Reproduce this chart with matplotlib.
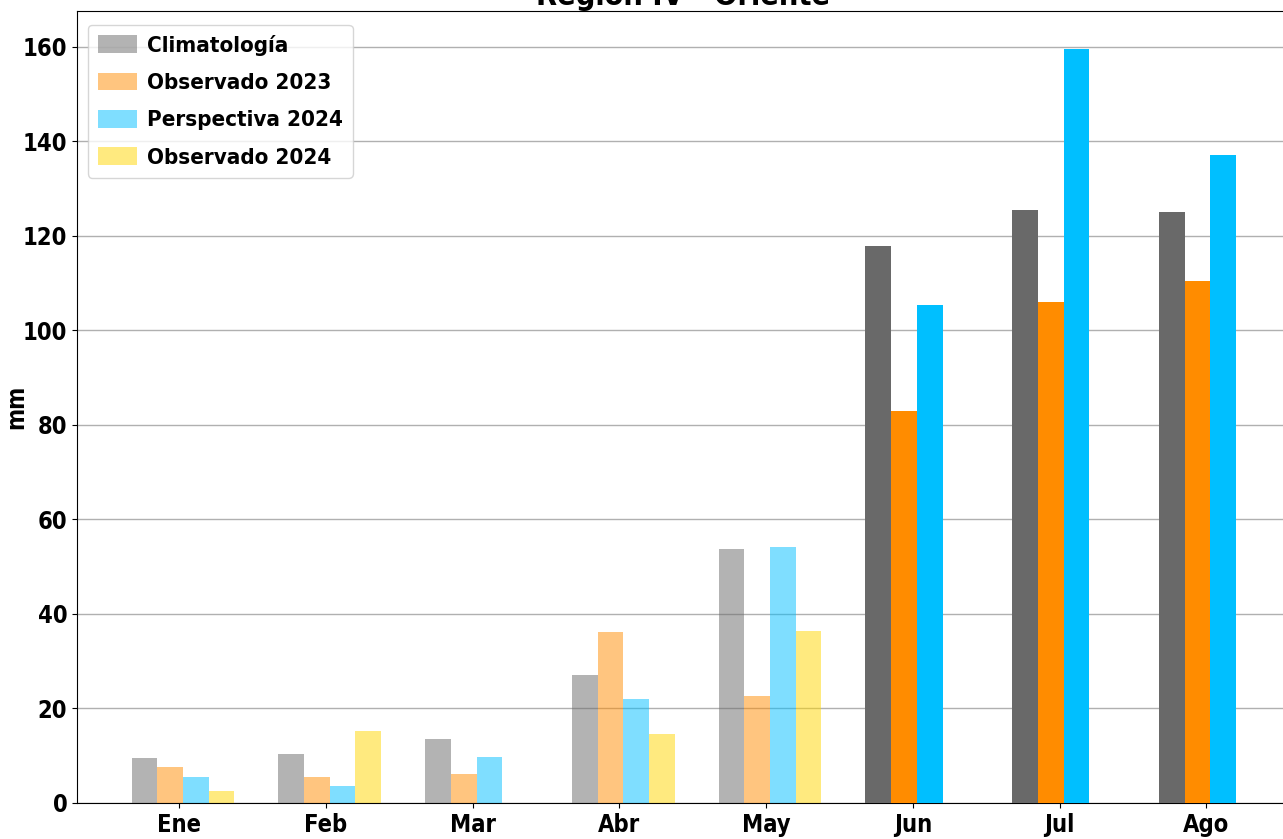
import numpy as np
import matplotlib
matplotlib.use("Agg")
import matplotlib.pyplot as plt

plt.rcParams['font.family'] = ['DejaVu Sans']
plt.rcParams['font.stretch'] = 'condensed'
plt.rcParams['font.weight'] = 'bold'

# months and values (mm)
months = ["Ene", "Feb", "Mar", "Abr", "May", "Jun", "Jul", "Ago"]
climatologia = [9.6, 10.4, 13.6, 27.0, 53.8, 117.9, 125.4, 125.1]
observado2023 = [7.7, 5.6, 6.2, 36.2, 22.7, 83.0, 106.0, 110.5]
perspectiva2024 = [5.4, 3.5, 9.8, 22.0, 54.2, 105.3, 159.6, 137.1]
observado2024 = [2.5, 15.3, 0.0, 14.5, 36.4]

series = [
    ("Climatología", climatologia, "dimgray"),
    ("Observado 2023", observado2023, "darkorange"),
    ("Perspectiva 2024", perspectiva2024, "deepskyblue"),
    ("Observado 2024", observado2024, "gold"),
]

fig = plt.figure(figsize=(12.83, 8.39), dpi=100)
ax = fig.add_axes([77 / 1283, (839 - 803) / 839, (1290 - 77) / 1283, (803 - 11) / 839])

width = 0.175
offsets = [-0.235, -0.06, 0.115, 0.29]
x = np.arange(len(months))
nobs = 5  # months already observed -> drawn faded

for (name, vals, col), off in zip(series, offsets):
    vals = np.array(vals)
    n = len(vals)
    k = min(n, nobs)
    ax.bar(x[:k] + off, vals[:k], width, color=col, alpha=0.5, label=name, zorder=3)
    if n > nobs:
        ax.bar(x[nobs:n] + off, vals[nobs:], width, color=col, zorder=3)

fs = 17
ax.set_xticks(x)
ax.set_xticklabels(months, fontsize=fs, fontweight='bold')
ax.tick_params(axis='y', labelsize=fs)
ax.set_xlim(-0.695, 7.57)
ax.set_ylim(0, 167.6)
ax.set_yticks(range(0, 161, 20))
ax.grid(axis='y', color='#b0b0b0', linewidth=1, zorder=0)
ax.set_ylabel("mm", fontsize=17, fontweight='bold', labelpad=-4)
ax.set_title("Región IV - Oriente", fontsize=22, fontweight='bold', pad=4)
ax.legend(loc='upper left', bbox_to_anchor=(11 / 1213, (803 - 25) / 792), borderaxespad=0,
          prop={'weight': 'bold', 'size': 16, 'stretch': 'condensed'},
          handlelength=1.75, handleheight=0.85, handletextpad=0.45,
          labelspacing=0.75, borderpad=0.45)

fig.savefig("out.png", dpi=100)
